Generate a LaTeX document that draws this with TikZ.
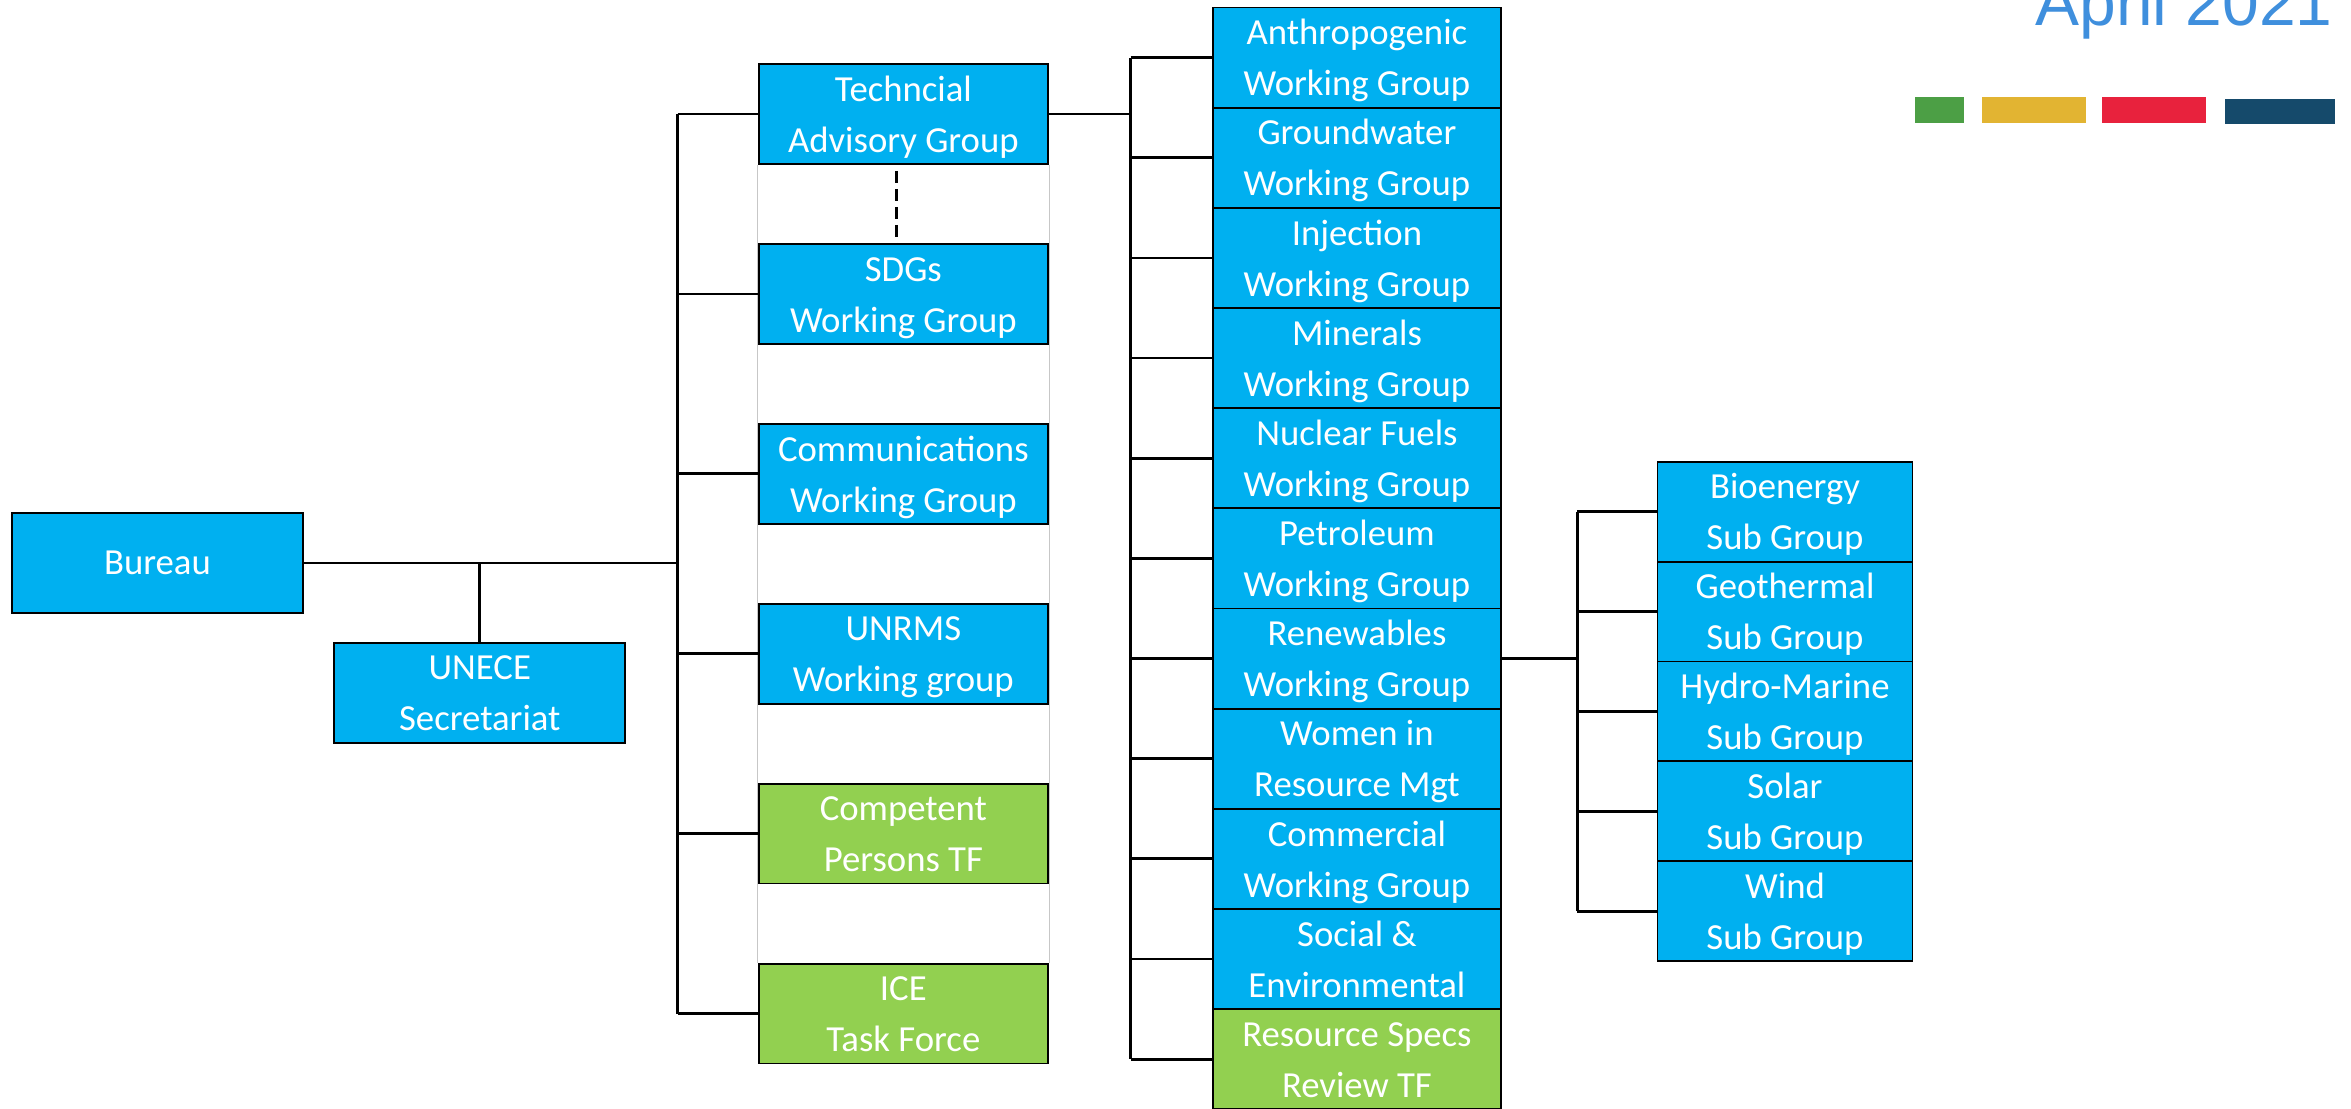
\documentclass[tikz,border=0pt]{standalone}
\usepackage{fontspec}
\setmainfont{Carlito}
\newfontfamily\datefont{Liberation Sans}
\usepackage{tikz}
\usetikzlibrary{calc}
\usetikzlibrary{backgrounds}
\definecolor{boxblue}{HTML}{00B0F0}
\definecolor{boxgreen}{HTML}{92D050}
\definecolor{dateblue}{HTML}{3F8FDD}
\definecolor{barGreen}{HTML}{4C9F45}
\definecolor{barYellow}{HTML}{E2B432}
\definecolor{barRed}{HTML}{E8223D}
\definecolor{barNavy}{HTML}{154A6B}
% two text lines with fixed top and bottom
\newcommand\twoline[2]{\rule{0pt}{23pt}#1\\#2\rule[-6pt]{0pt}{6pt}}
\tikzset{
  grp/.style={draw=black, line width=1.2pt, fill=boxblue, text=white, align=center,
    inner sep=0pt, minimum width=193, minimum height=66.6,
    font=\fontsize{24.5}{34}\selectfont},
  tf/.style={grp, fill=boxgreen},
  link/.style={line width=1.8pt},
  rail/.style={draw=black!22, line width=0.5pt},
}
\begin{document}
\begin{tikzpicture}[x=1pt,y=1pt,yscale=-1,xscale=1]
\useasboundingbox (0,0) rectangle (1568,739);
\clip (0,0) rectangle (1568,739);
%Shape: Top level
\node[grp, minimum width=194, minimum height=67] (bureau) at (105,375.5) {Bureau};
\node[grp, minimum width=194] (unece) at (320,462) {\twoline{UNECE}{Secretariat}};
%Shape: Second level
\node[grp] (tag) at (602.5,76) {\twoline{Techncial}{Advisory Group}};
\node[grp] (sdg) at (602.5,196) {\twoline{SDGs}{Working Group}};
\node[grp] (comm) at (602.5,316) {\twoline{Communications}{Working Group}};
\node[grp] (unrms) at (602.5,436) {\twoline{UNRMS}{Working group}};
\node[tf] (cptf) at (602.5,556) {\twoline{Competent}{Persons TF}};
\node[tf] (ice) at (602.5,676) {\twoline{ICE}{Task Force}};
%Shape: Working groups
\foreach \nm/\top/\bot [count=\i from 0] in {anthro/Anthropogenic/Working Group,
    ground/Groundwater/Working Group, inject/Injection/Working Group,
    miner/Minerals/Working Group, nuclear/Nuclear Fuels/Working Group,
    petro/Petroleum/Working Group, renew/Renewables/Working Group,
    women/Women in/Resource Mgt, commer/Commercial/Working Group,
    social/Social \&/Environmental}
  \node[grp, minimum width=192, minimum height=66.8] (\nm) at (905,38.4+66.8*\i) {\twoline{\top}{\bot}};
\node[tf, minimum width=192, minimum height=66.8] (specs) at (905,706.4) {\twoline{Resource Specs}{Review TF}};
%Shape: Sub groups
\foreach \nm/\top [count=\i from 0] in {bio/Bioenergy, geo/Geothermal, hydro/Hydro-Marine,
    solar/Solar, wind/Wind}
  \node[grp, minimum width=170] (\nm) at (1190.5,341.3+66.6*\i) {\twoline{\top}{Sub Group}};
%Shape: Column rails
\begin{scope}[on background layer]
\draw[rail] (tag.south west) -- (ice.north west);
\draw[rail] (tag.south east) -- (ice.north east);
\end{scope}
%Connectors
\coordinate (spineA) at (452,0);
\coordinate (spineB) at (754,0);
\coordinate (spineC) at (1052,0);
\draw[link] (bureau.east) -- (bureau.east -| spineA);
\draw[link] (bureau.east -| unece.north) -- (unece.north);
\draw[link] (spineA |- tag.west) -- (spineA |- ice.west);
\foreach \nm in {tag,sdg,comm,unrms,cptf,ice}
  \draw[link] (spineA |- \nm.west) -- (\nm.west);
\coordinate (dashtop) at ($(tag.south)+(-4.5,4)$);
\draw[link, dash pattern=on 8pt off 4pt] (dashtop) -- (dashtop |- sdg.north);
\draw[link] (tag.east) -- (tag.east -| spineB);
\draw[link] (spineB |- anthro.west) -- (spineB |- specs.west);
\foreach \nm in {anthro,ground,inject,miner,nuclear,petro,renew,women,commer,social,specs}
  \draw[link] (spineB |- \nm.west) -- (\nm.west);
\draw[link] (renew.east) -- (renew.east -| spineC);
\draw[link] (spineC |- bio.west) -- (spineC |- wind.west);
\foreach \nm in {bio,geo,hydro,solar,wind}
  \draw[link] (spineC |- \nm.west) -- (\nm.west);
%Date and colour bars
\node[anchor=base east, inner sep=0pt, text=dateblue, font=\datefont\fontsize{44}{50}\selectfont] (date) at (1556,17) {April 2021};
\fill[barGreen] (1277,65) rectangle (1310,82);
\fill[barYellow] (1322,65) rectangle (1391,82);
\fill[barRed] (1402,65) rectangle (1471,82);
\fill[barNavy] (1484,66) rectangle (1557,83);
\end{tikzpicture}
\end{document}
